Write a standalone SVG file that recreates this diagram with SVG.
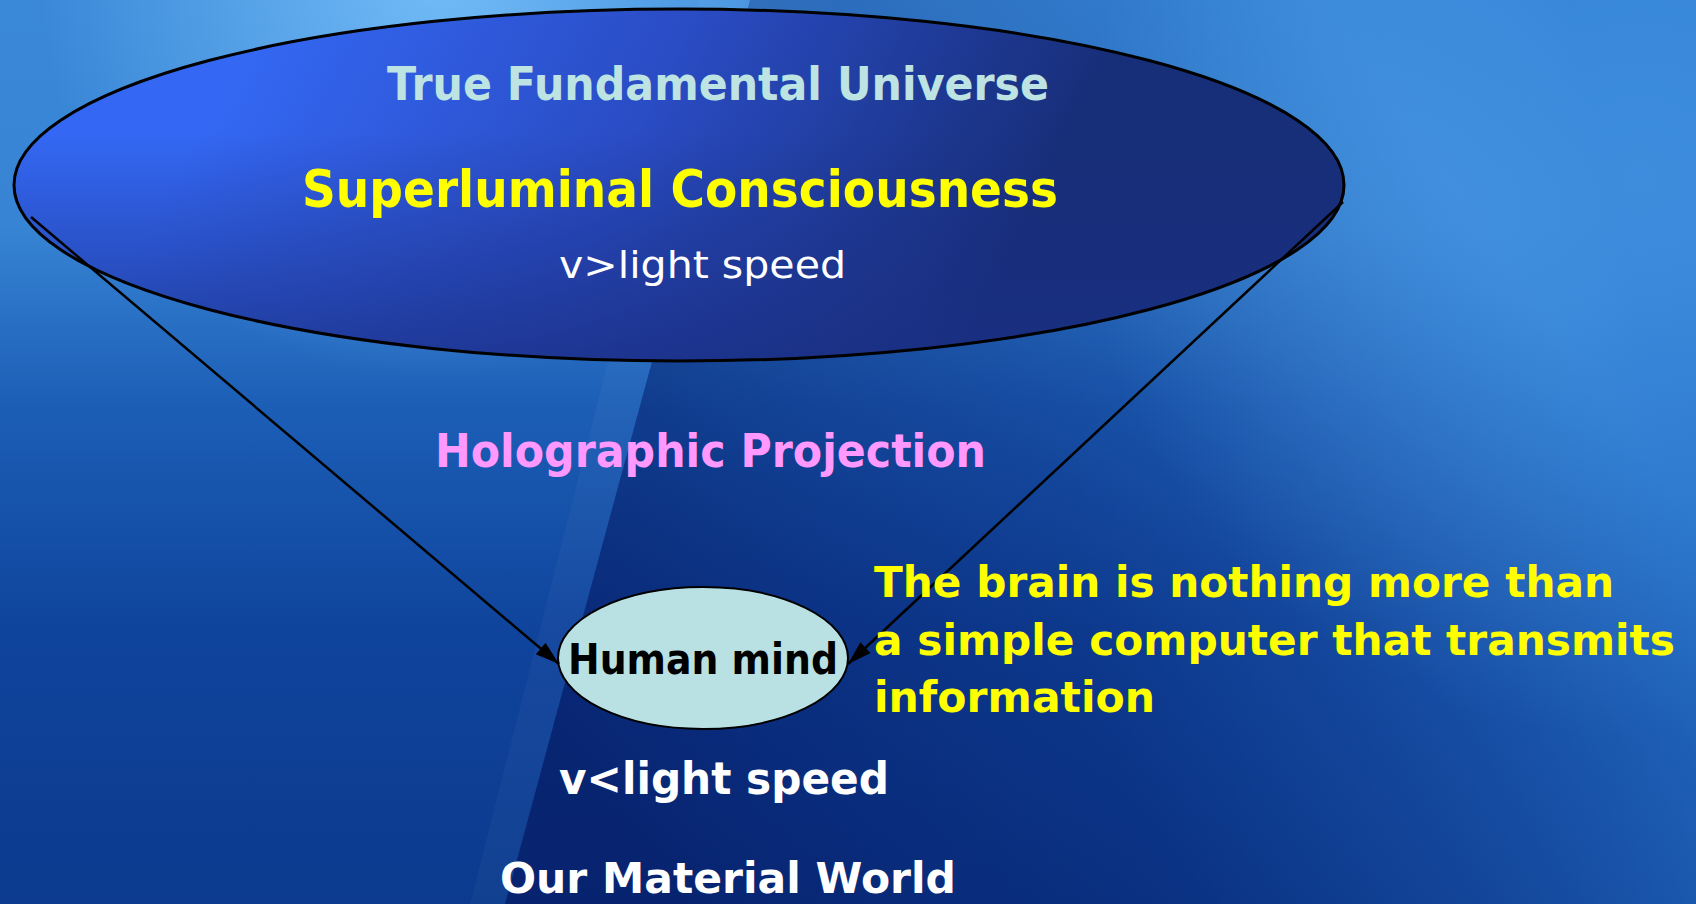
<svg xmlns="http://www.w3.org/2000/svg" width="1696" height="904" viewBox="0 0 1696 904">
  <defs>
    <linearGradient id="bg" x1="0" y1="0" x2="0" y2="1">
      <stop offset="0" stop-color="#3a88d8"/>
      <stop offset="0.25" stop-color="#3784d4"/>
      <stop offset="0.45" stop-color="#1c5eb6"/>
      <stop offset="0.7" stop-color="#0f449c"/>
      <stop offset="1" stop-color="#0b3a8e"/>
    </linearGradient>
    <radialGradient id="hl1" cx="440" cy="-20" r="400" gradientUnits="userSpaceOnUse">
      <stop offset="0" stop-color="#80c8ff" stop-opacity="0.8"/>
      <stop offset="1" stop-color="#80c8ff" stop-opacity="0"/>
    </radialGradient>
    <radialGradient id="hl2" cx="1640" cy="180" r="560" gradientUnits="userSpaceOnUse">
      <stop offset="0" stop-color="#70bffc" stop-opacity="0.9"/>
      <stop offset="1" stop-color="#70bffc" stop-opacity="0"/>
    </radialGradient>
    <linearGradient id="wedge" x1="650" y1="860" x2="1500" y2="250" gradientUnits="userSpaceOnUse">
      <stop offset="0" stop-color="#061c66" stop-opacity="0.75"/>
      <stop offset="0.55" stop-color="#0a2a7a" stop-opacity="0.35"/>
      <stop offset="1" stop-color="#0a2a7a" stop-opacity="0"/>
    </linearGradient>
    <linearGradient id="rb" x1="1100" y1="700" x2="1696" y2="560" gradientUnits="userSpaceOnUse">
      <stop offset="0" stop-color="#2a78d0" stop-opacity="0"/>
      <stop offset="1" stop-color="#2a7ad2" stop-opacity="0.7"/>
    </linearGradient>
    <linearGradient id="bigFill" x1="250" y1="20" x2="950" y2="380" gradientUnits="userSpaceOnUse">
      <stop offset="0" stop-color="#3468f4"/>
      <stop offset="0.5" stop-color="#2a4cc4"/>
      <stop offset="1" stop-color="#172e78"/>
    </linearGradient>
    <linearGradient id="bigShade" x1="0" y1="0" x2="0" y2="1">
      <stop offset="0.35" stop-color="#1a2f84" stop-opacity="0"/>
      <stop offset="1" stop-color="#1a2f84" stop-opacity="0.75"/>
    </linearGradient>
    <marker id="arrow" markerUnits="userSpaceOnUse" markerWidth="26" markerHeight="18" refX="24" refY="9" orient="auto">
      <path d="M0,1.5 L24,9 L0,16.5 Z" fill="#000"/>
    </marker>
    <style>
      .b { font-family: "DejaVu Sans", "Liberation Sans", sans-serif; font-weight: bold; }
      .r { font-family: "DejaVu Sans", "Liberation Sans", sans-serif; font-weight: normal; }
      .conn { stroke: #000; stroke-width: 2.5; fill: none; marker-end: url(#arrow); }
    </style>
  </defs>

  <g id="background">
    <rect x="0" y="0" width="1696" height="904" fill="url(#bg)"/>
    <rect x="0" y="0" width="1696" height="904" fill="url(#hl1)"/>
    <rect x="0" y="0" width="1696" height="904" fill="url(#hl2)"/>
    <rect x="0" y="0" width="1696" height="904" fill="url(#rb)"/>
    <polygon points="750,0 1696,0 1696,904 505,904" fill="url(#wedge)"/>
    <polygon points="700,0 750,0 505,904 470,904" fill="#ffffff" opacity="0.03"/>
  </g>

  <g id="node-universe">
    <ellipse cx="679" cy="185" rx="665" ry="176" fill="url(#bigFill)"/>
    <ellipse cx="679" cy="185" rx="665" ry="176" fill="url(#bigShade)" stroke="#000" stroke-width="3"/>
    <text class="b" x="387" y="100" font-size="47" fill="#bde3e3" textLength="662" lengthAdjust="spacingAndGlyphs">True Fundamental Universe</text>
    <text class="b" x="302" y="207" font-size="52" fill="#ffff00" textLength="756" lengthAdjust="spacingAndGlyphs">Superluminal Consciousness</text>
    <text class="r" x="559" y="278" font-size="38" fill="#ffffff" textLength="287" lengthAdjust="spacingAndGlyphs">v&gt;light speed</text>
  </g>

  <g id="node-mind">
    <ellipse cx="703" cy="658" rx="145" ry="71" fill="#b9e1e3" stroke="#000" stroke-width="2"/>
    <text class="b" x="568" y="674" font-size="42" fill="#000" textLength="270" lengthAdjust="spacingAndGlyphs">Human mind</text>
  </g>

  <g id="connectors">
    <line class="conn" x1="31" y1="217" x2="559" y2="664"/>
    <line class="conn" x1="1343" y1="202" x2="848" y2="664"/>
  </g>

  <g id="label-projection">
    <text class="b" x="435" y="467" font-size="46" fill="#ff99ff" textLength="551" lengthAdjust="spacingAndGlyphs">Holographic Projection</text>
  </g>

  <g id="label-brain">
    <text class="b" x="874" y="597" font-size="42" fill="#ffff00" textLength="740" lengthAdjust="spacingAndGlyphs">The brain is nothing more than</text>
    <text class="b" x="874" y="655" font-size="42" fill="#ffff00" textLength="801" lengthAdjust="spacingAndGlyphs">a simple computer that transmits</text>
    <text class="b" x="874" y="712" font-size="42" fill="#ffff00" textLength="281" lengthAdjust="spacingAndGlyphs">information</text>
  </g>

  <g id="label-speed">
    <text class="b" x="559" y="794" font-size="44" fill="#ffffff" textLength="330" lengthAdjust="spacingAndGlyphs">v&lt;light speed</text>
  </g>

  <g id="label-world">
    <text class="b" x="500" y="893" font-size="43" fill="#ffffff" textLength="456" lengthAdjust="spacingAndGlyphs">Our Material World</text>
  </g>
</svg>
